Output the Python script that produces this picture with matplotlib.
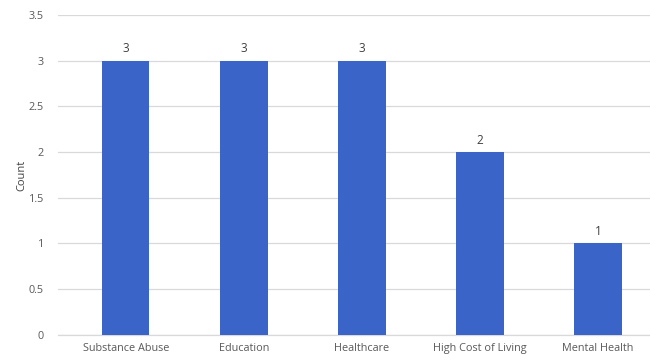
import matplotlib
matplotlib.use("Agg")
import matplotlib.pyplot as plt

categories = ["Substance Abuse", "Education", "Healthcare", "High Cost of Living", "Mental Health"]
counts = [3, 3, 3, 2, 1]
yticks = [0, 0.5, 1, 1.5, 2, 2.5, 3, 3.5]
ytick_labels = ["0", "0.5", "1", "1.5", "2", "2.5", "3", "3.5"]

plt.rcParams['font.family'] = ['Open Sans', 'DejaVu Sans']

fig = plt.figure(figsize=(6.5, 3.64), dpi=100)
ax = fig.add_axes([0.089, 0.080, 0.911, 0.879])

x = list(range(len(categories)))
bars = ax.bar(x, counts, width=0.40, color="#3A64C8", zorder=3)

for xi, v in zip(x, counts):
    ax.text(xi, v + 0.06, str(v), ha="center", va="bottom", fontsize=8.5, color="#404040")

ax.set_ylim(0, 3.5)
ax.set_xlim(-0.576, 4.44)
ax.set_yticks(yticks)
ax.set_yticklabels(ytick_labels)
ax.set_xticks(x)
ax.set_xticklabels(categories)
ax.tick_params(axis="both", length=0, labelsize=7.8, colors="#595959")
ax.tick_params(axis="y", pad=10)
ax.tick_params(axis="x", pad=6)

ax.yaxis.grid(True, color="#D9D9D9", linewidth=0.9, zorder=0)
for s in ["top", "right", "left"]:
    ax.spines[s].set_visible(False)
ax.spines["bottom"].set_color("#D9D9D9")
ax.spines["bottom"].set_linewidth(0.9)

ax.set_ylabel("Count", fontsize=8, color="#404040", labelpad=1)

fig.savefig("out.png", dpi=100)
